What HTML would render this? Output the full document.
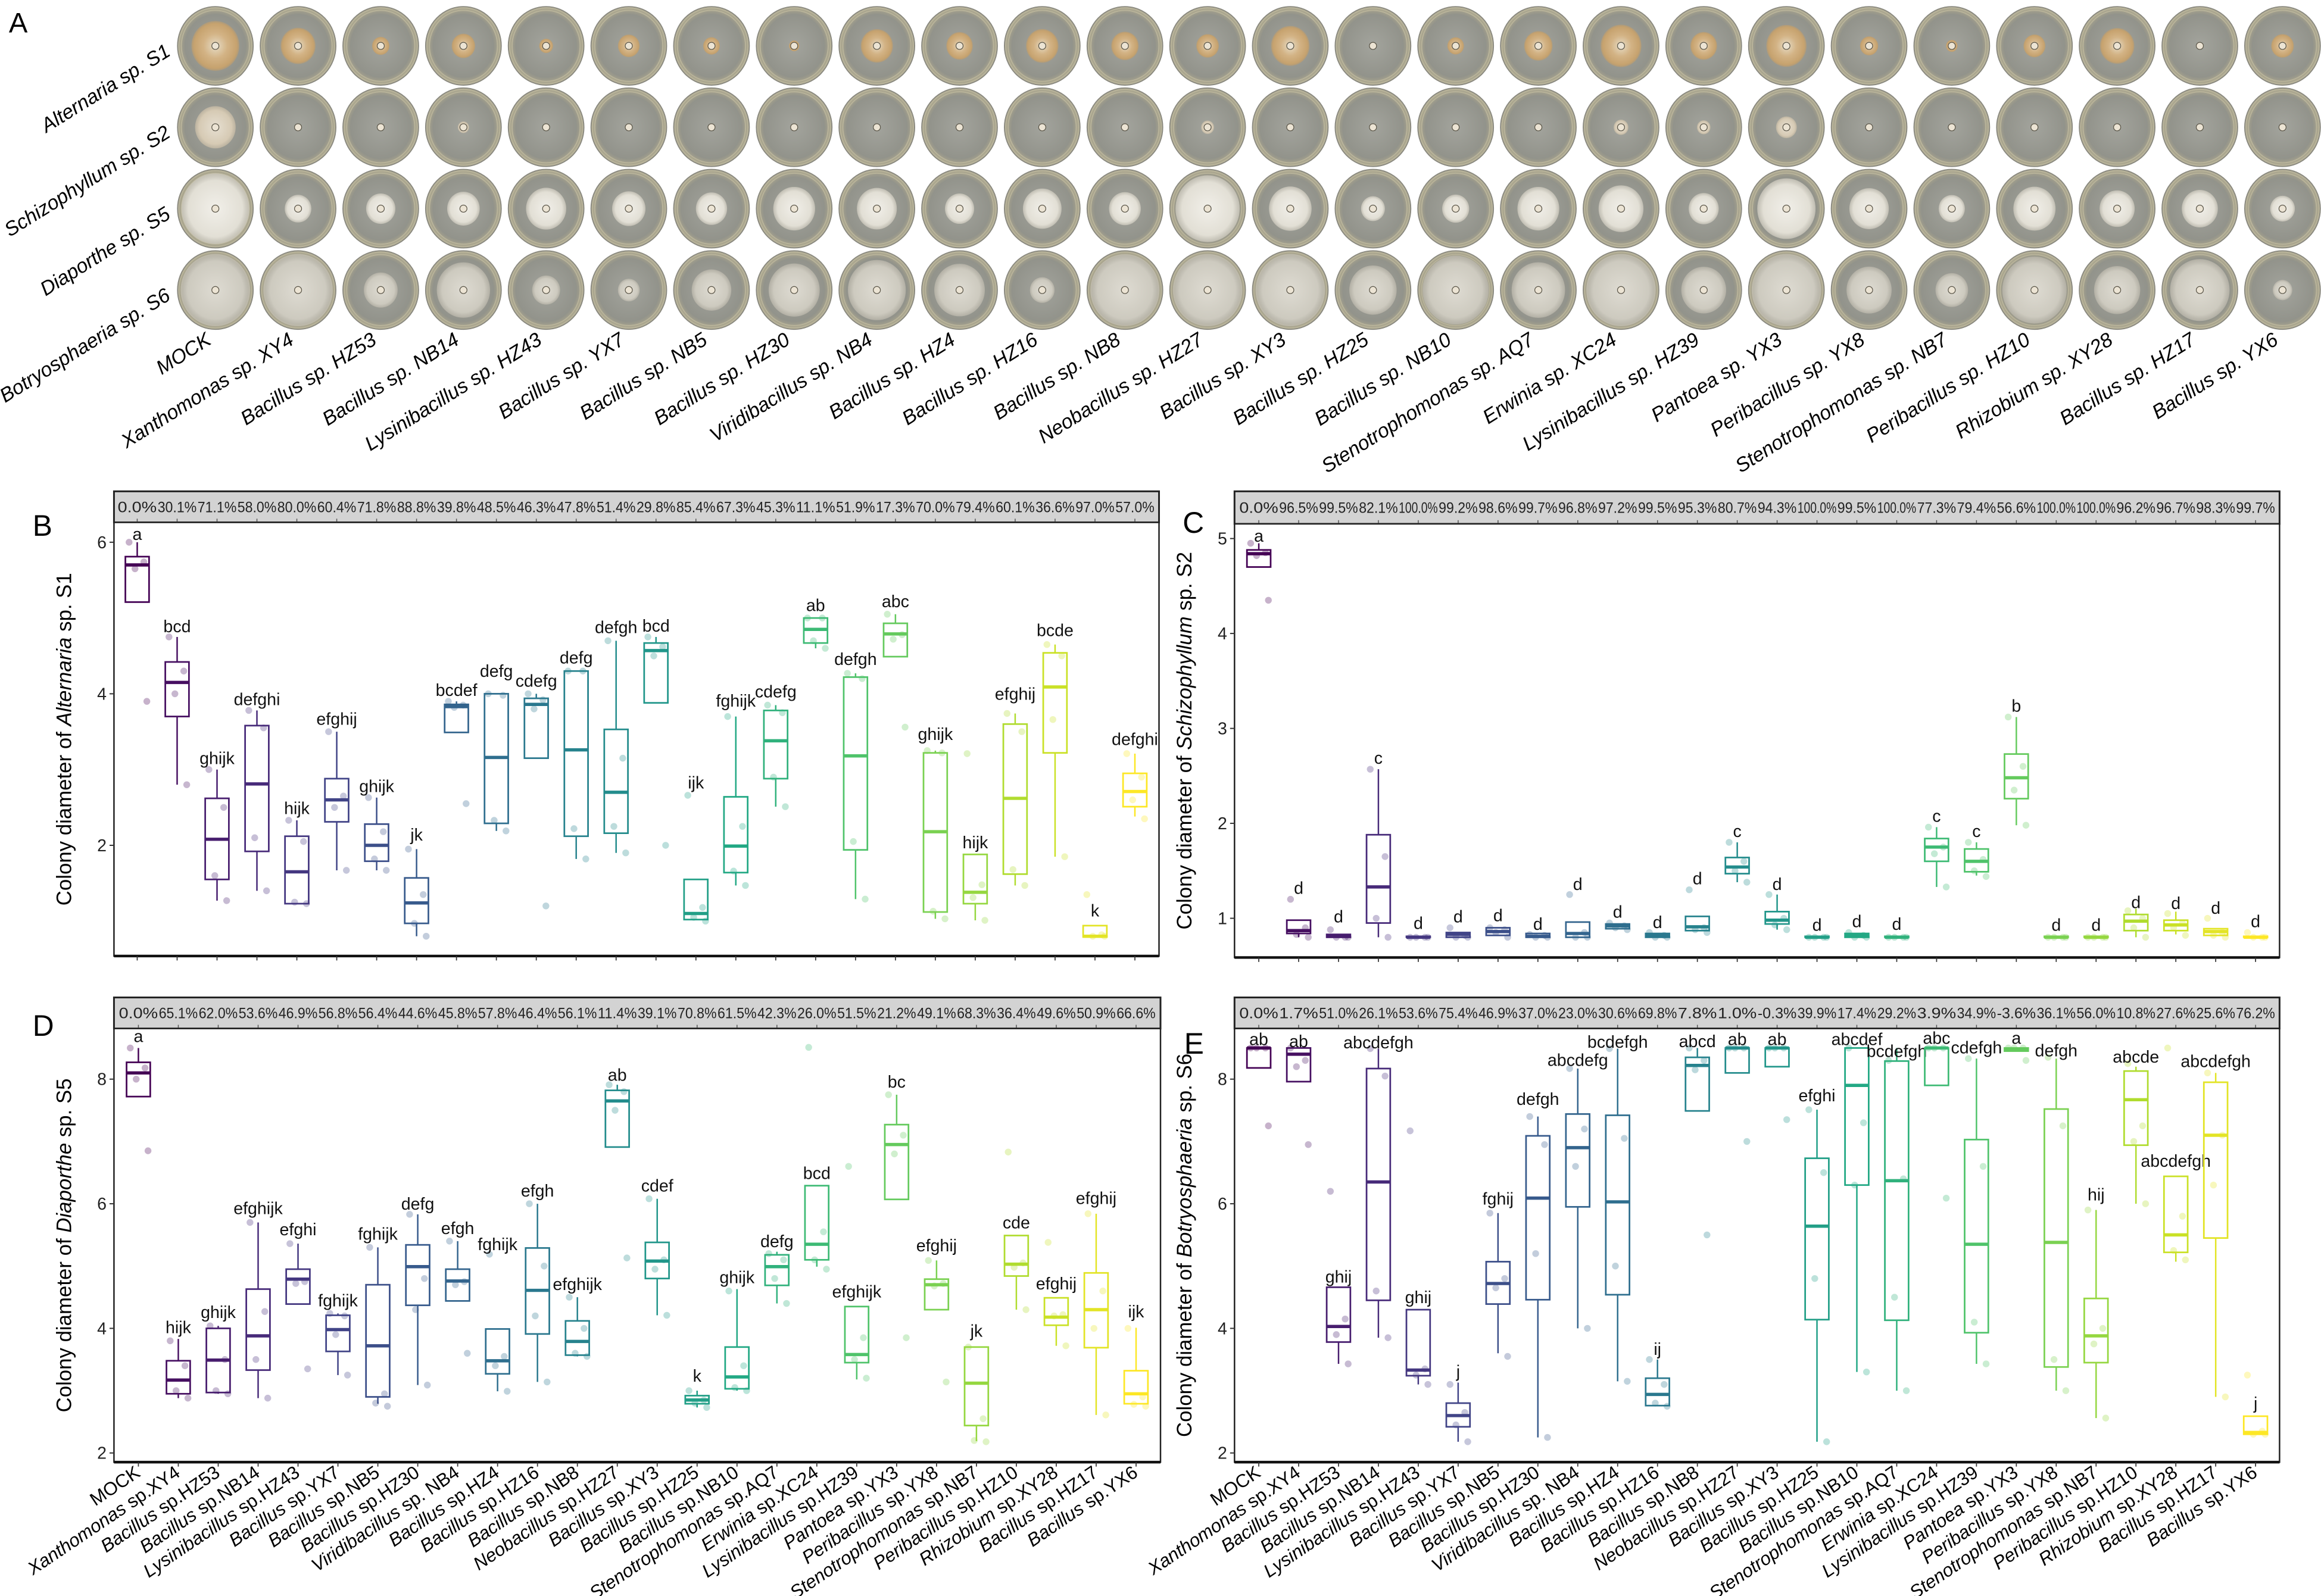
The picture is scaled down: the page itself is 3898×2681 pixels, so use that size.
<!DOCTYPE html>
<html><head><meta charset="utf-8">
<style>
html,body{margin:0;padding:0;background:#fff;}
svg{display:block;font-family:"Liberation Sans",Arial,sans-serif;}
</style></head>
<body>
<svg id="fig" xmlns="http://www.w3.org/2000/svg" width="3898" height="2681" viewBox="0 0 1568 1078.45">
<defs>
<radialGradient id="dishg" cx="50%" cy="50%" r="50%">
<stop offset="0%" stop-color="#a3a49d"/><stop offset="80%" stop-color="#92938b"/><stop offset="93%" stop-color="#a6a28c"/><stop offset="100%" stop-color="#c9c3a6"/>
</radialGradient>
<radialGradient id="col0" cx="50%" cy="50%" r="50%"><stop offset="0%" stop-color="#e6dcc6"/><stop offset="50%" stop-color="#d3b385"/><stop offset="90%" stop-color="#c6a26e"/><stop offset="100%" stop-color="#b89c72" stop-opacity="0.7"/></radialGradient>
<radialGradient id="col1" cx="50%" cy="50%" r="50%"><stop offset="0%" stop-color="#e6dfd1"/><stop offset="80%" stop-color="#d6cab4"/><stop offset="100%" stop-color="#c8bca6" stop-opacity="0.75"/></radialGradient>
<radialGradient id="col2" cx="50%" cy="50%" r="50%"><stop offset="0%" stop-color="#f1efe9"/><stop offset="80%" stop-color="#e2dfd5"/><stop offset="100%" stop-color="#cfcbbf" stop-opacity="0.75"/></radialGradient>
<radialGradient id="col3" cx="50%" cy="50%" r="50%"><stop offset="0%" stop-color="#dedbd2"/><stop offset="80%" stop-color="#cdcabf"/><stop offset="100%" stop-color="#bdb9ad" stop-opacity="0.75"/></radialGradient>
</defs>
<g id="panelA"></g>
<g id="charts"></g>
</svg>
<script>
const strains = ["MOCK","Xanthomonas|XY4","Bacillus|HZ53","Bacillus|NB14","Lysinibacillus|HZ43","Bacillus|YX7","Bacillus|NB5","Bacillus|HZ30","Viridibacillus|NB4","Bacillus|HZ4","Bacillus|HZ16","Bacillus|NB8","Neobacillus|HZ27","Bacillus|XY3","Bacillus|HZ25","Bacillus|NB10","Stenotrophomonas|AQ7","Erwinia|XC24","Lysinibacillus|HZ39","Pantoea|YX3","Peribacillus|YX8","Stenotrophomonas|NB7","Peribacillus|HZ10","Rhizobium|XY28","Bacillus|HZ17","Bacillus|YX6"];
const fungi = [["Alternaria"," sp. S1"],["Schizophyllum"," sp. S2"],["Diaporthe"," sp. S5"],["Botryosphaeria"," sp. S6"]];

// ---- Panel B (Alternaria) ----
const pctB = ["0.0%","30.1%","71.1%","58.0%","80.0%","60.4%","71.8%","88.8%","39.8%","48.5%","46.3%","47.8%","51.4%","29.8%","85.4%","67.3%","45.3%","11.1%","51.9%","17.3%","70.0%","79.4%","60.1%","36.6%","97.0%","57.0%"];
const loB = [5.21,2.80,1.27,1.40,1.23,1.67,1.67,0.80,3.49,2.19,3.15,1.82,1.90,3.88,1.02,1.47,2.51,4.60,1.29,4.49,1.03,1.01,1.47,1.85,0.79,2.38];
const q1B = [5.21,3.70,1.55,1.92,1.23,2.31,1.79,0.97,3.49,2.29,3.15,2.12,2.16,3.88,1.02,1.64,2.88,4.67,1.94,4.49,1.12,1.23,1.62,3.22,0.79,2.51];
const medB = [5.70,4.15,2.08,2.81,1.65,2.60,2.00,1.24,3.83,3.16,3.86,3.26,2.70,4.57,1.10,1.99,3.38,4.85,3.18,4.79,2.18,1.38,2.62,4.09,0.80,2.71];
const q3B = [5.81,4.42,2.62,3.58,2.12,2.88,2.28,1.57,3.86,4.00,3.94,4.30,3.53,4.67,1.55,2.64,3.78,5.00,4.22,4.93,3.22,1.88,3.60,4.54,0.94,2.95];
const hiB = [6.00,4.75,3.00,3.78,2.33,3.50,2.63,1.95,3.90,4.00,4.00,4.30,4.70,4.75,1.55,3.70,3.85,5.00,4.27,5.05,3.25,1.88,3.74,4.65,0.94,3.21];
const ptsB = [[6.0,5.74,5.65,3.9],[4.75,4.3,4.0,2.8],[3.0,2.5,1.6,1.27],[3.78,3.55,2.1,1.4],[2.33,2.05,1.25,1.23],[3.5,2.65,2.5,1.67],[2.63,2.18,1.82,1.67],[1.95,1.35,0.97,0.8],[3.9,3.85,3.82,2.55],[4.0,3.98,2.33,2.19],[4.0,3.92,3.8,1.2],[4.3,4.3,2.22,1.82],[4.7,3.15,2.25,1.9],[4.75,4.62,4.5,2.0],[2.66,1.18,1.05,1.0],[3.7,2.25,1.66,1.47],[3.85,3.75,2.9,2.51],[5.0,5.0,4.7,4.6],[4.27,4.2,2.05,1.29],[5.05,4.78,4.72,3.56],[3.25,3.22,1.13,1.03],[3.21,1.48,1.31,1.01],[3.74,3.5,1.68,1.47],[4.65,4.5,3.66,1.85],[1.35,0.82,0.8,0.8],[3.21,2.9,2.6,2.35]];
const letB = ["a","bcd","ghijk","defghi","hijk","efghij","ghijk","jk","bcdef","defg","cdefg","defg","defgh","bcd","ijk","fghijk","cdefg","ab","defgh","abc","ghijk","hijk","efghij","bcde","k","defghi"];
const letYB = [6.11,4.89,3.15,3.93,2.49,3.67,2.78,2.14,4.05,4.30,4.17,4.48,4.88,4.90,2.83,3.91,4.03,5.17,4.46,5.22,3.47,2.04,4.0,4.84,1.14,3.40];
const ticksB = [2,4,6];

// ---- Panel C (Schizophyllum) ----
const pctC = ["0.0%","96.5%","99.5%","82.1%","100.0%","99.2%","98.6%","99.7%","96.8%","97.2%","99.5%","95.3%","80.7%","94.3%","100.0%","99.5%","100.0%","77.3%","79.4%","56.6%","100.0%","100.0%","96.2%","96.7%","98.3%","99.7%"];
const loC = [4.70,0.80,0.80,0.80,0.80,0.80,0.82,0.80,0.80,0.89,0.80,0.87,1.38,0.88,0.80,0.80,0.80,1.33,1.45,1.98,0.80,0.80,0.80,0.83,0.82,0.80];
const q1C = [4.70,0.84,0.80,0.95,0.80,0.80,0.82,0.80,0.80,0.89,0.80,0.87,1.47,0.94,0.80,0.80,0.80,1.60,1.49,2.26,0.80,0.80,0.87,0.87,0.82,0.80];
const medC = [4.84,0.87,0.81,1.33,0.80,0.83,0.86,0.81,0.84,0.92,0.82,0.91,1.54,0.98,0.80,0.82,0.80,1.75,1.60,2.48,0.80,0.80,0.97,0.93,0.86,0.80];
const q3C = [4.88,0.98,0.83,1.88,0.81,0.85,0.90,0.84,0.96,0.94,0.84,1.02,1.64,1.07,0.81,0.84,0.81,1.84,1.73,2.73,0.81,0.81,1.04,0.98,0.89,0.81];
const hiC = [4.95,0.98,0.83,2.57,0.81,0.85,0.90,0.84,0.96,0.94,0.84,1.02,1.80,1.25,0.81,0.84,0.81,1.96,1.80,3.12,0.81,0.81,1.10,1.07,0.89,0.81];
const ptsC = [[4.95,4.85,4.82,4.35],[1.2,0.9,0.83,0.8],[0.88,0.8,0.8,0.8],[2.57,1.65,1.0,0.8],[0.8,0.8,0.8,0.8],[0.9,0.82,0.8,0.8],[0.9,0.88,0.85,0.8],[0.83,0.82,0.8,0.8],[1.25,0.85,0.8,0.8],[0.95,0.92,0.9,0.88],[0.85,0.82,0.8,0.8],[1.3,0.9,0.88,0.85],[1.8,1.6,1.5,1.38],[1.25,1.0,0.93,0.88],[0.8,0.8,0.8,0.8],[0.85,0.82,0.8,0.8],[0.8,0.8,0.8,0.8],[1.96,1.75,1.68,1.33],[1.8,1.62,1.5,1.44],[3.12,2.6,2.35,1.98],[0.8,0.8,0.8,0.8],[0.8,0.8,0.8,0.8],[1.08,1.0,0.9,0.8],[1.05,0.95,0.9,0.82],[1.0,0.85,0.82,0.8],[0.85,0.8,0.8,0.8]];
const letC = ["a","d","d","c","d","d","d","d","d","d","d","d","c","d","d","d","d","c","c","b","d","d","d","d","d","d"];
const letYC = [5.03,1.32,1.02,2.69,0.95,1.02,1.03,0.94,1.36,1.07,0.96,1.42,1.92,1.36,0.93,0.97,0.94,2.08,1.92,3.24,0.93,0.93,1.17,1.16,1.11,0.97];
const ticksC = [1,2,3,4,5];

// ---- Panel D (Diaporthe) ----
const pctD = ["0.0%","65.1%","62.0%","53.6%","46.9%","56.8%","56.4%","44.6%","45.8%","57.8%","46.4%","56.1%","11.4%","39.1%","70.8%","61.5%","42.3%","26.0%","51.5%","21.2%","49.1%","68.3%","36.4%","49.6%","50.9%","66.6%"];
const loD = [7.72,2.88,2.95,2.88,4.39,3.25,2.79,3.09,4.44,2.99,3.14,3.55,6.91,4.21,2.73,3.00,4.40,4.99,3.18,6.07,4.30,2.19,4.30,3.72,2.61,2.79];
const q1D = [7.72,2.95,2.97,3.33,4.39,3.63,2.90,4.37,4.44,3.27,3.91,3.57,6.91,4.80,2.79,3.03,4.69,5.10,3.45,6.07,4.30,2.44,4.84,4.05,3.69,2.79];
const medD = [8.10,3.17,3.49,3.88,4.79,3.98,3.72,4.99,4.76,3.48,4.61,3.79,7.65,5.08,2.85,3.22,4.99,5.35,3.58,6.95,4.70,3.12,5.03,4.18,4.30,2.95];
const q3D = [8.27,3.48,4.00,4.63,4.95,4.21,4.70,5.34,4.95,3.99,5.29,4.12,7.82,5.38,2.92,3.70,5.18,6.29,4.35,7.27,4.79,3.70,5.49,4.49,4.89,3.32];
const hiD = [8.50,3.83,4.04,5.70,5.36,4.24,5.30,5.83,5.40,3.99,6.00,4.50,7.91,6.08,3.00,4.63,5.23,6.29,4.35,7.75,5.09,3.70,5.49,4.49,5.84,4.01];
const ptsD = [[8.5,8.18,8.0,6.85],[3.8,3.4,3.0,2.88],[4.04,3.5,3.0,2.95],[5.7,4.27,3.5,2.88],[5.36,4.75,4.72,3.35],[4.24,4.2,3.9,3.25],[5.3,2.95,2.8,2.75],[5.83,4.8,4.3,3.09],[5.4,4.75,4.7,3.6],[5.19,3.55,3.4,2.99],[6.0,5.0,4.2,3.14],[4.5,4.0,3.6,3.55],[7.91,7.8,7.5,5.13],[6.08,5.1,4.95,4.21],[3.0,2.85,2.8,2.73],[4.6,3.4,3.05,3.0],[5.2,5.1,4.8,4.4],[8.51,5.55,5.1,4.95],[6.6,3.85,3.5,3.2],[7.75,7.1,6.8,3.85],[5.09,4.72,4.68,3.14],[3.7,2.55,2.2,2.18],[6.83,5.05,4.98,4.3],[5.38,4.22,4.2,3.72],[5.84,4.6,4.0,2.61],[4.0,2.9,2.78,2.75]];
const letD = ["a","hijk","ghijk","efghijk","efghi","fghijk","fghijk","defg","efgh","fghijk","efgh","efghijk","ab","cdef","k","ghijk","defg","bcd","efghijk","bc","efghij","jk","cde","efghij","efghij","ijk"];
const letYD = [8.69,4.02,4.26,5.93,5.59,4.45,5.52,6.0,5.61,5.35,6.21,4.71,8.07,6.29,3.24,4.82,5.4,6.49,4.59,7.96,5.33,3.96,5.7,4.72,6.09,4.27];
const ticksD = [2,4,6,8];

// ---- Panel E (Botryosphaeria) ----
const pctE = ["0.0%","1.7%","51.0%","26.1%","53.6%","75.4%","46.9%","37.0%","23.0%","30.6%","69.8%","7.8%","1.0%","-0.3%","39.9%","17.4%","29.2%","3.9%","34.9%","-3.6%","36.1%","56.0%","10.8%","27.6%","25.6%","76.2%"];
const loE = [8.18,7.96,3.43,3.85,3.10,2.18,3.60,2.25,4.00,3.15,2.76,7.49,8.10,8.20,2.18,3.30,3.00,7.90,3.43,8.45,3.00,2.56,6.00,5.07,2.90,2.30];
const q1E = [8.18,7.96,3.78,4.45,3.24,2.42,4.39,4.46,5.95,4.54,2.76,7.49,8.10,8.20,4.14,6.30,4.13,7.90,3.93,8.45,3.38,3.45,6.94,5.22,5.45,2.30];
const medE = [8.50,8.40,4.03,6.35,3.33,2.60,4.72,6.09,6.90,6.03,2.94,8.22,8.50,8.50,5.64,7.90,6.37,8.50,5.35,8.48,5.38,3.88,7.67,5.50,7.10,2.33];
const q3E = [8.50,8.50,4.66,8.17,4.30,2.80,5.07,7.09,7.44,7.42,3.20,8.35,8.50,8.50,6.73,8.50,8.29,8.50,7.03,8.50,7.52,4.48,8.13,6.44,7.95,2.59];
const hiE = [8.50,8.50,4.66,8.49,4.30,3.13,5.85,7.40,8.17,8.49,3.50,8.50,8.50,8.50,7.51,8.50,8.50,8.50,8.33,8.50,8.33,5.90,8.20,6.44,8.10,2.59];
const ptsE = [[8.5,8.5,8.5,7.25],[8.5,8.3,8.2,6.95],[6.2,4.15,3.9,3.43],[8.49,8.05,4.6,3.85],[7.17,3.35,3.25,3.1],[3.1,2.65,2.45,2.18],[5.85,4.8,4.65,3.55],[7.4,6.95,5.2,2.25],[8.17,7.2,6.6,4.0],[8.49,7.05,5.0,3.15],[3.5,3.1,2.8,2.75],[8.5,8.3,8.15,5.5],[8.5,8.5,8.5,7.0],[8.5,8.5,8.5,7.35],[7.51,6.5,4.8,2.18],[8.5,7.3,6.3,3.3],[8.3,6.4,4.5,3.0],[8.5,8.5,8.5,6.09],[8.33,6.6,4.1,3.43],[8.5,8.5,8.5,8.3],[8.35,7.25,3.5,3.0],[5.9,4.0,3.75,2.56],[8.25,7.25,7.0,6.0],[8.5,5.8,5.25,5.1],[8.1,7.1,6.3,2.9],[3.25,2.35,2.3,2.3]];
const letE = ["ab","ab","ghij","abcdefgh","ghij","j","fghij","defgh","abcdefg","bcdefgh","ij","abcd","ab","ab","efghi","abcdef","bcdefgh","abc","cdefgh","a","defgh","hij","abcde","abcdefgh","abcdefgh","j"];
const letYE = [8.64,8.61,4.83,8.59,4.5,3.31,6.08,7.68,8.31,8.6,3.67,8.61,8.64,8.64,7.74,8.64,8.45,8.66,8.51,8.66,8.46,6.15,8.36,6.69,8.29,2.8];
const ticksE = [2,4,6,8];

const NS = "http://www.w3.org/2000/svg";
function mk(tag, attrs, parent){ const e=document.createElementNS(NS,tag); for(const k in attrs) e.setAttribute(k,attrs[k]); if(parent) parent.appendChild(e); return e; }

const vstops = ["#440154","#482475","#414487","#355f8d","#2a788e","#21918c","#22a884","#44bf70","#7ad151","#bddf26","#fde725"];
function hex2rgb(h){return [parseInt(h.substr(1,2),16),parseInt(h.substr(3,2),16),parseInt(h.substr(5,2),16)];}
function viridis(t){ const p=t*10, i=Math.min(9,Math.floor(p)), f=p-i; const a=hex2rgb(vstops[i]), b=hex2rgb(vstops[i+1]); return "rgb("+a.map((v,k)=>Math.round(v+(b[k]-v)*f)).join(",")+")"; }

// ---------- Panel A ----------
const A = document.getElementById("panelA");
const aLetter = mk("text",{x:6,y:22,"font-size":19},A); aLetter.textContent="A";


const rowY=[31,86,141,196], colX0=145.5, colDX=55.86;
const rowMeds=[medB,medC,medD,medE];
for(let r=0;r<4;r++){
  const lab = mk("text",{x:116,y:rowY[r]+6,"font-size":13.5,"font-style":"italic","text-anchor":"end",transform:`rotate(-32 116 ${rowY[r]+6})`},A);
  lab.textContent = fungi[r][0]+fungi[r][1];
  
  
  for(let c=0;c<26;c++){
    const cx=colX0+c*colDX, cy=rowY[r];
    const g=mk("g",{},A);
    
    
    mk("ellipse",{cx:cx,cy:cy,rx:25.5,ry:26.5,fill:"url(#dishg)",stroke:"#8b8a80","stroke-width":0.8},g);
    mk("ellipse",{cx:cx,cy:cy,rx:23,ry:24,fill:"none",stroke:"#b8b39a","stroke-width":0.8},g);
    const rad=Math.min(23.5,rowMeds[r][c]/9*25.5);
    if(rad>3.2) mk("ellipse",{cx:cx,cy:cy,rx:rad,ry:rad*1.04,fill:`url(#col${r})`},g);
    mk("circle",{cx:cx,cy:cy,r:2.4,fill:"#ece4d4",stroke:"#5a5548","stroke-width":0.5},g);
  }
}
for(let c=0;c<26;c++){
  const x=colX0+c*colDX-2, y=232;
  const t=mk("text",{x:x,y:y,"font-size":13.5,"font-style":"italic","text-anchor":"end",transform:`rotate(-32 ${x} ${y})`},A);
  const parts=strains[c].split("|");
  t.textContent = parts.length>1 ? parts[0]+" sp. "+parts[1] : parts[0];
  
  
}

// ---------- Box panels ----------
const C = document.getElementById("charts");
function panel(cfg){
  const g=mk("g",{},C);
  
  
  const n=cfg.med.length;
  const xc=i=>cfg.cx0+i*(cfg.cx1-cfg.cx0)/(n-1);
  const dx=(cfg.cx1-cfg.cx0)/(n-1);
  const y=v=>cfg.yRef-(v-cfg.vRef)*cfg.ppu;
  const st=mk("rect",{x:cfg.x0,y:cfg.sTop,width:cfg.x1-cfg.x0,height:cfg.pTop-cfg.sTop,fill:"#d3d3d3",stroke:"#222","stroke-width":1.2},g);
  
  
  for(let i=0;i<n;i++){
    const t=mk("text",{x:xc(i),y:(cfg.sTop+cfg.pTop)/2+3.6,"font-size":10,"text-anchor":"middle",textLength:dx-0.6,lengthAdjust:"spacingAndGlyphs",fill:"#222"},g);
    t.textContent=cfg.pct[i];
    
    
    mk("line",{x1:xc(i),x2:xc(i),y1:cfg.pTop,y2:cfg.pTop-2.5,stroke:"#555","stroke-width":0.6},g);
  }
  const fr=mk("rect",{x:cfg.x0,y:cfg.pTop,width:cfg.x1-cfg.x0,height:cfg.pBot-cfg.pTop,fill:"#fff",stroke:"#222","stroke-width":1},g);
  
  
  mk("line",{x1:cfg.x0,x2:cfg.x1,y1:cfg.pBot,y2:cfg.pBot,stroke:"#111","stroke-width":1.8},g);
  cfg.ticks.forEach(v=>{
    mk("line",{x1:cfg.x0-3,x2:cfg.x0,y1:y(v),y2:y(v),stroke:"#333","stroke-width":0.8},g);
    const t=mk("text",{x:cfg.x0-5,y:y(v)+4,"font-size":11.5,"text-anchor":"end",fill:"#222"},g);
    t.textContent=v;
    
    
  });
  const ym=(cfg.pTop+cfg.pBot)/2, yx=cfg.x0-29;
  const yt=mk("text",{x:yx,y:ym,"font-size":14,"text-anchor":"middle",transform:`rotate(-90 ${yx} ${ym})`},g);
  
  
  const s1=mk("tspan",{},yt); s1.textContent="Colony diameter of ";
  const s2=mk("tspan",{"font-style":"italic"},yt); s2.textContent=cfg.fungus[0];
  const s3=mk("tspan",{},yt); s3.textContent=cfg.fungus[1];
  const pl=mk("text",{x:cfg.lx,y:cfg.ly,"font-size":20},g); pl.textContent=cfg.letter;
  
  
  const jit=[-5.5,4.5,-1.5,6.5];
  for(let i=0;i<n;i++){
    const col=viridis(i/(n-1)), x=xc(i), w=16;
    const bg=mk("g",{},g);
    
    
    cfg.pts[i].forEach((v,k)=>{ const p=mk("circle",{cx:x+jit[k],cy:y(v),r:2.3,fill:col,"fill-opacity":0.3},bg);
      
       });
    mk("line",{x1:x,x2:x,y1:y(cfg.hi[i]),y2:y(cfg.q3[i]),stroke:col,"stroke-width":1},bg);
    mk("line",{x1:x,x2:x,y1:y(cfg.q1[i]),y2:y(cfg.lo[i]),stroke:col,"stroke-width":1},bg);
    mk("rect",{x:x-w/2,y:y(cfg.q3[i]),width:w,height:Math.max(0.5,y(cfg.q1[i])-y(cfg.q3[i])),fill:"none",stroke:col,"stroke-width":1.1},bg);
    mk("line",{x1:x-w/2,x2:x+w/2,y1:y(cfg.med[i]),y2:y(cfg.med[i]),stroke:col,"stroke-width":2.2},bg);
    const lt=mk("text",{x:x,y:y(cfg.letY[i])+4,"font-size":11.5,"text-anchor":"middle",fill:"#111"},g);
    lt.textContent=cfg.lets[i];
    
    
    mk("line",{x1:x,x2:x,y1:cfg.pBot,y2:cfg.pBot+3,stroke:"#333","stroke-width":0.7},g);
    if(cfg.xlabels){
      const lx=x+2, ly=cfg.pBot+9;
      const t=mk("text",{x:lx,y:ly,"font-size":12.5,"text-anchor":"end",transform:`rotate(-34 ${lx} ${ly})`},g);
      
      
      const parts=strains[i].split("|");
      if(parts.length>1){
        const a=mk("tspan",{"font-style":"italic"},t); a.textContent=parts[0];
        const b=mk("tspan",{},t); b.textContent=(parts[0]==="Viridibacillus"?" sp. ":" sp.")+parts[1];
      } else t.textContent=parts[0];
    }
  }
}
panel({name:"panel-b-alternaria",letter:"B",lx:22,ly:362,fungus:fungi[0],x0:77,x1:783,sTop:332,pTop:353,pBot:646,cx0:92.7,cx1:766.7,yRef:571.2,vRef:2,ppu:51.2,ticks:ticksB,pct:pctB,lo:loB,q1:q1B,med:medB,q3:q3B,hi:hiB,pts:ptsB,lets:letB,letY:letYB,xlabels:false});
panel({name:"panel-c-schizophyllum",letter:"C",lx:799,ly:360,fungus:fungi[1],x0:834,x1:1540,sTop:332,pTop:354,pBot:647,cx0:850.4,cx1:1523.8,yRef:620.5,vRef:1,ppu:64.15,ticks:ticksC,pct:pctC,lo:loC,q1:q1C,med:medC,q3:q3C,hi:hiC,pts:ptsC,lets:letC,letY:letYC,xlabels:false});
panel({name:"panel-d-diaporthe",letter:"D",lx:22,ly:700,fungus:fungi[2],x0:77,x1:784,sTop:674,pTop:695,pBot:988,cx0:93.5,cx1:767.5,yRef:981.8,vRef:2,ppu:42.1,ticks:ticksD,pct:pctD,lo:loD,q1:q1D,med:medD,q3:q3D,hi:hiD,pts:ptsD,lets:letD,letY:letYD,xlabels:true});
panel({name:"panel-e-botryosphaeria",letter:"E",lx:800,ly:712,fungus:fungi[3],x0:834,x1:1540,sTop:674,pTop:695,pBot:988,cx0:850.4,cx1:1523.8,yRef:981.8,vRef:2,ppu:42.1,ticks:ticksE,pct:pctE,lo:loE,q1:q1E,med:medE,q3:q3E,hi:hiE,pts:ptsE,lets:letE,letY:letYE,xlabels:true});
</script>
</body></html>
